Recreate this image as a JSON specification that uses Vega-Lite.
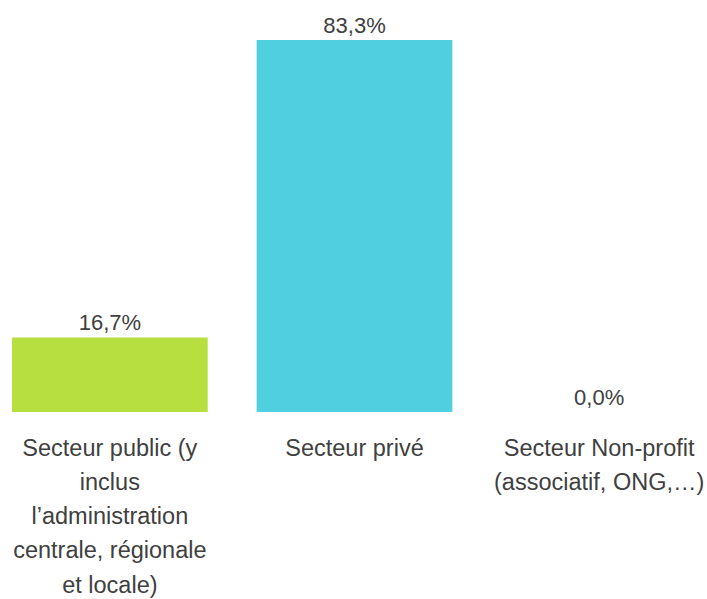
{
  "$schema": "https://vega.github.io/schema/vega-lite/v6.json",
  "autosize": {"type": "none"},
  "width": 685,
  "height": 372,
  "padding": {"left": 12, "top": 40, "right": 10, "bottom": 187},
  "background": "white",
  "config": {
    "view": {"stroke": null},
    "locale": {"number": {"decimal": ",", "thousands": " ", "grouping": [3], "currency": ["", " €"], "percent": "%"}},
    "font": "Liberation Sans"
  },
  "data": {
    "values": [
      {"secteur": "Secteur public (y|inclus|l’administration|centrale, régionale|et locale)", "part": 0.167, "color": "#b8df40"},
      {"secteur": "Secteur privé", "part": 0.833, "color": "#50cfe0"},
      {"secteur": "Secteur Non-profit|(associatif, ONG,…)", "part": 0.0, "color": "#50cfe0"}
    ]
  },
  "encoding": {
    "x": {
      "field": "secteur",
      "type": "nominal",
      "sort": null,
      "scale": {"paddingInner": 0.2, "paddingOuter": 0},
      "axis": {
        "title": null,
        "domain": false,
        "ticks": false,
        "labelAngle": 0,
        "labelExpr": "split(datum.label, '|')",
        "labelFont": "Liberation Sans",
        "labelFontSize": 23.5,
        "labelLineHeight": 34.3,
        "labelPadding": 24,
        "labelColor": "#404040",
        "labelLimit": 0
      }
    },
    "y": {
      "field": "part",
      "type": "quantitative",
      "scale": {"domain": [0, 0.833], "nice": false},
      "axis": null
    }
  },
  "layer": [
    {
      "mark": {"type": "bar"},
      "encoding": {"color": {"field": "color", "type": "nominal", "scale": null}}
    },
    {
      "mark": {"type": "text", "baseline": "alphabetic", "dy": -7, "fontSize": 22, "font": "Liberation Sans", "color": "#404040"},
      "encoding": {"text": {"field": "part", "type": "quantitative", "format": ".1%"}}
    }
  ]
}
